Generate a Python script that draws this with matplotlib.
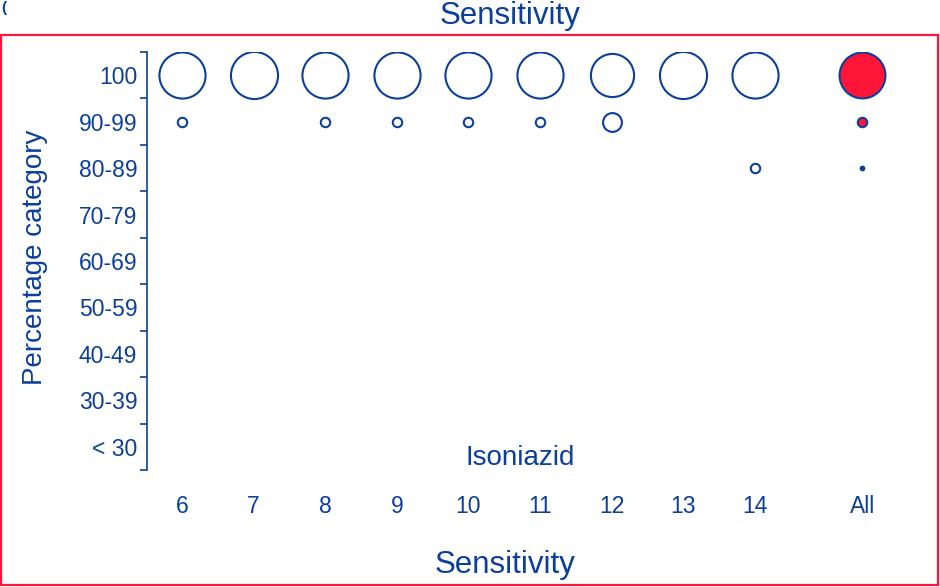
import numpy as np
import matplotlib
matplotlib.use('Agg')
import matplotlib.pyplot as plt
from matplotlib.patches import Rectangle

plt.rcParams['font.family'] = ['Liberation Sans', 'DejaVu Sans']

# data: share of labs per percentage category (bubble area)
drugs = ['6', '7', '8', '9', '10', '11', '12', '13', '14', 'All']
categories = ['< 30', '30-39', '40-49', '50-59', '60-69', '70-79', '80-89', '90-99', '100']
share_100 = [0.96, 1.00, 0.96, 0.96, 0.96, 0.96, 0.84, 1.00, 0.96, 0.95]
share_90_99 = [0.04, 0.0, 0.04, 0.04, 0.04, 0.04, 0.16, 0.0, 0.0, 0.04]
share_80_89 = [0.0, 0.0, 0.0, 0.0, 0.0, 0.0, 0.0, 0.0, 0.04, 0.006]
drug_name = 'Isoniazid'

blue = '#0b3f9b'
red = '#ff1538'

xpos = list(range(len(drugs) - 1)) + [len(drugs) - 0.5]
smax = 1150

fig = plt.figure(figsize=(9.4, 5.87), dpi=100)
ax = fig.add_axes([147/940, 1 - 470/587, (910 - 147)/940, (470 - 52)/587])

rows = [(categories.index('100'), share_100),
        (categories.index('90-99'), share_90_99),
        (categories.index('80-89'), share_80_89)]
for yi, shares in rows:
    for i, s in enumerate(shares):
        if s <= 0:
            continue
        face = red if drugs[i] == 'All' else 'white'
        if s < 0.01:
            face = blue
        ax.scatter(xpos[i], yi, s=s*smax, facecolor=face, edgecolor=blue,
                   linewidth=1.5, zorder=3)

ax.set_xlim(-35/71.6, (910 - 182)/71.6)
ax.set_ylim(-0.5, len(categories) - 0.5)

ax.set_yticks(np.arange(len(categories) + 1) - 0.5)
ax.set_yticklabels([])
ax.set_yticks(np.arange(len(categories)), minor=True)
ax.set_yticklabels(categories, minor=True)
ax.tick_params(axis='y', which='major', length=5, width=1.2, color=blue, direction='out')
ax.tick_params(axis='y', which='minor', length=0, pad=7, labelsize=16.5, labelcolor=blue)

ax.set_xticks(xpos)
ax.set_xticklabels(drugs)
ax.tick_params(axis='x', length=0, pad=18, labelsize=16.5, labelcolor=blue)

for side in ['top', 'right', 'bottom']:
    ax.spines[side].set_visible(False)
ax.spines['left'].set_color(blue)
ax.spines['left'].set_linewidth(1.2)

ax.text(520/940, 1 - 458/587, drug_name, transform=fig.transFigure, ha='center', va='center',
        fontsize=20, color=blue)

fig.text(35/940, 1 - 257/587, 'Percentage category', rotation=90, ha='center', va='center',
         fontsize=20, color=blue)
fig.text(505/940, 1 - 573/587, 'Sensitivity', ha='center', va='baseline', fontsize=22.5, color=blue)
fig.text(510/940, 1 - 1/587, 'Sensitivity', ha='center', va='top', fontsize=22.5, color=blue)
fig.text(1/940, 1 - 1/587, '(', ha='left', va='top', fontsize=11, fontweight='bold', color=blue)

fig.patches.append(Rectangle((0.001, 0.003), 0.997, 1 - 35/587 - 0.003, transform=fig.transFigure,
                             fill=False, edgecolor=red, linewidth=1.6))

fig.savefig('out.png', dpi=100)
